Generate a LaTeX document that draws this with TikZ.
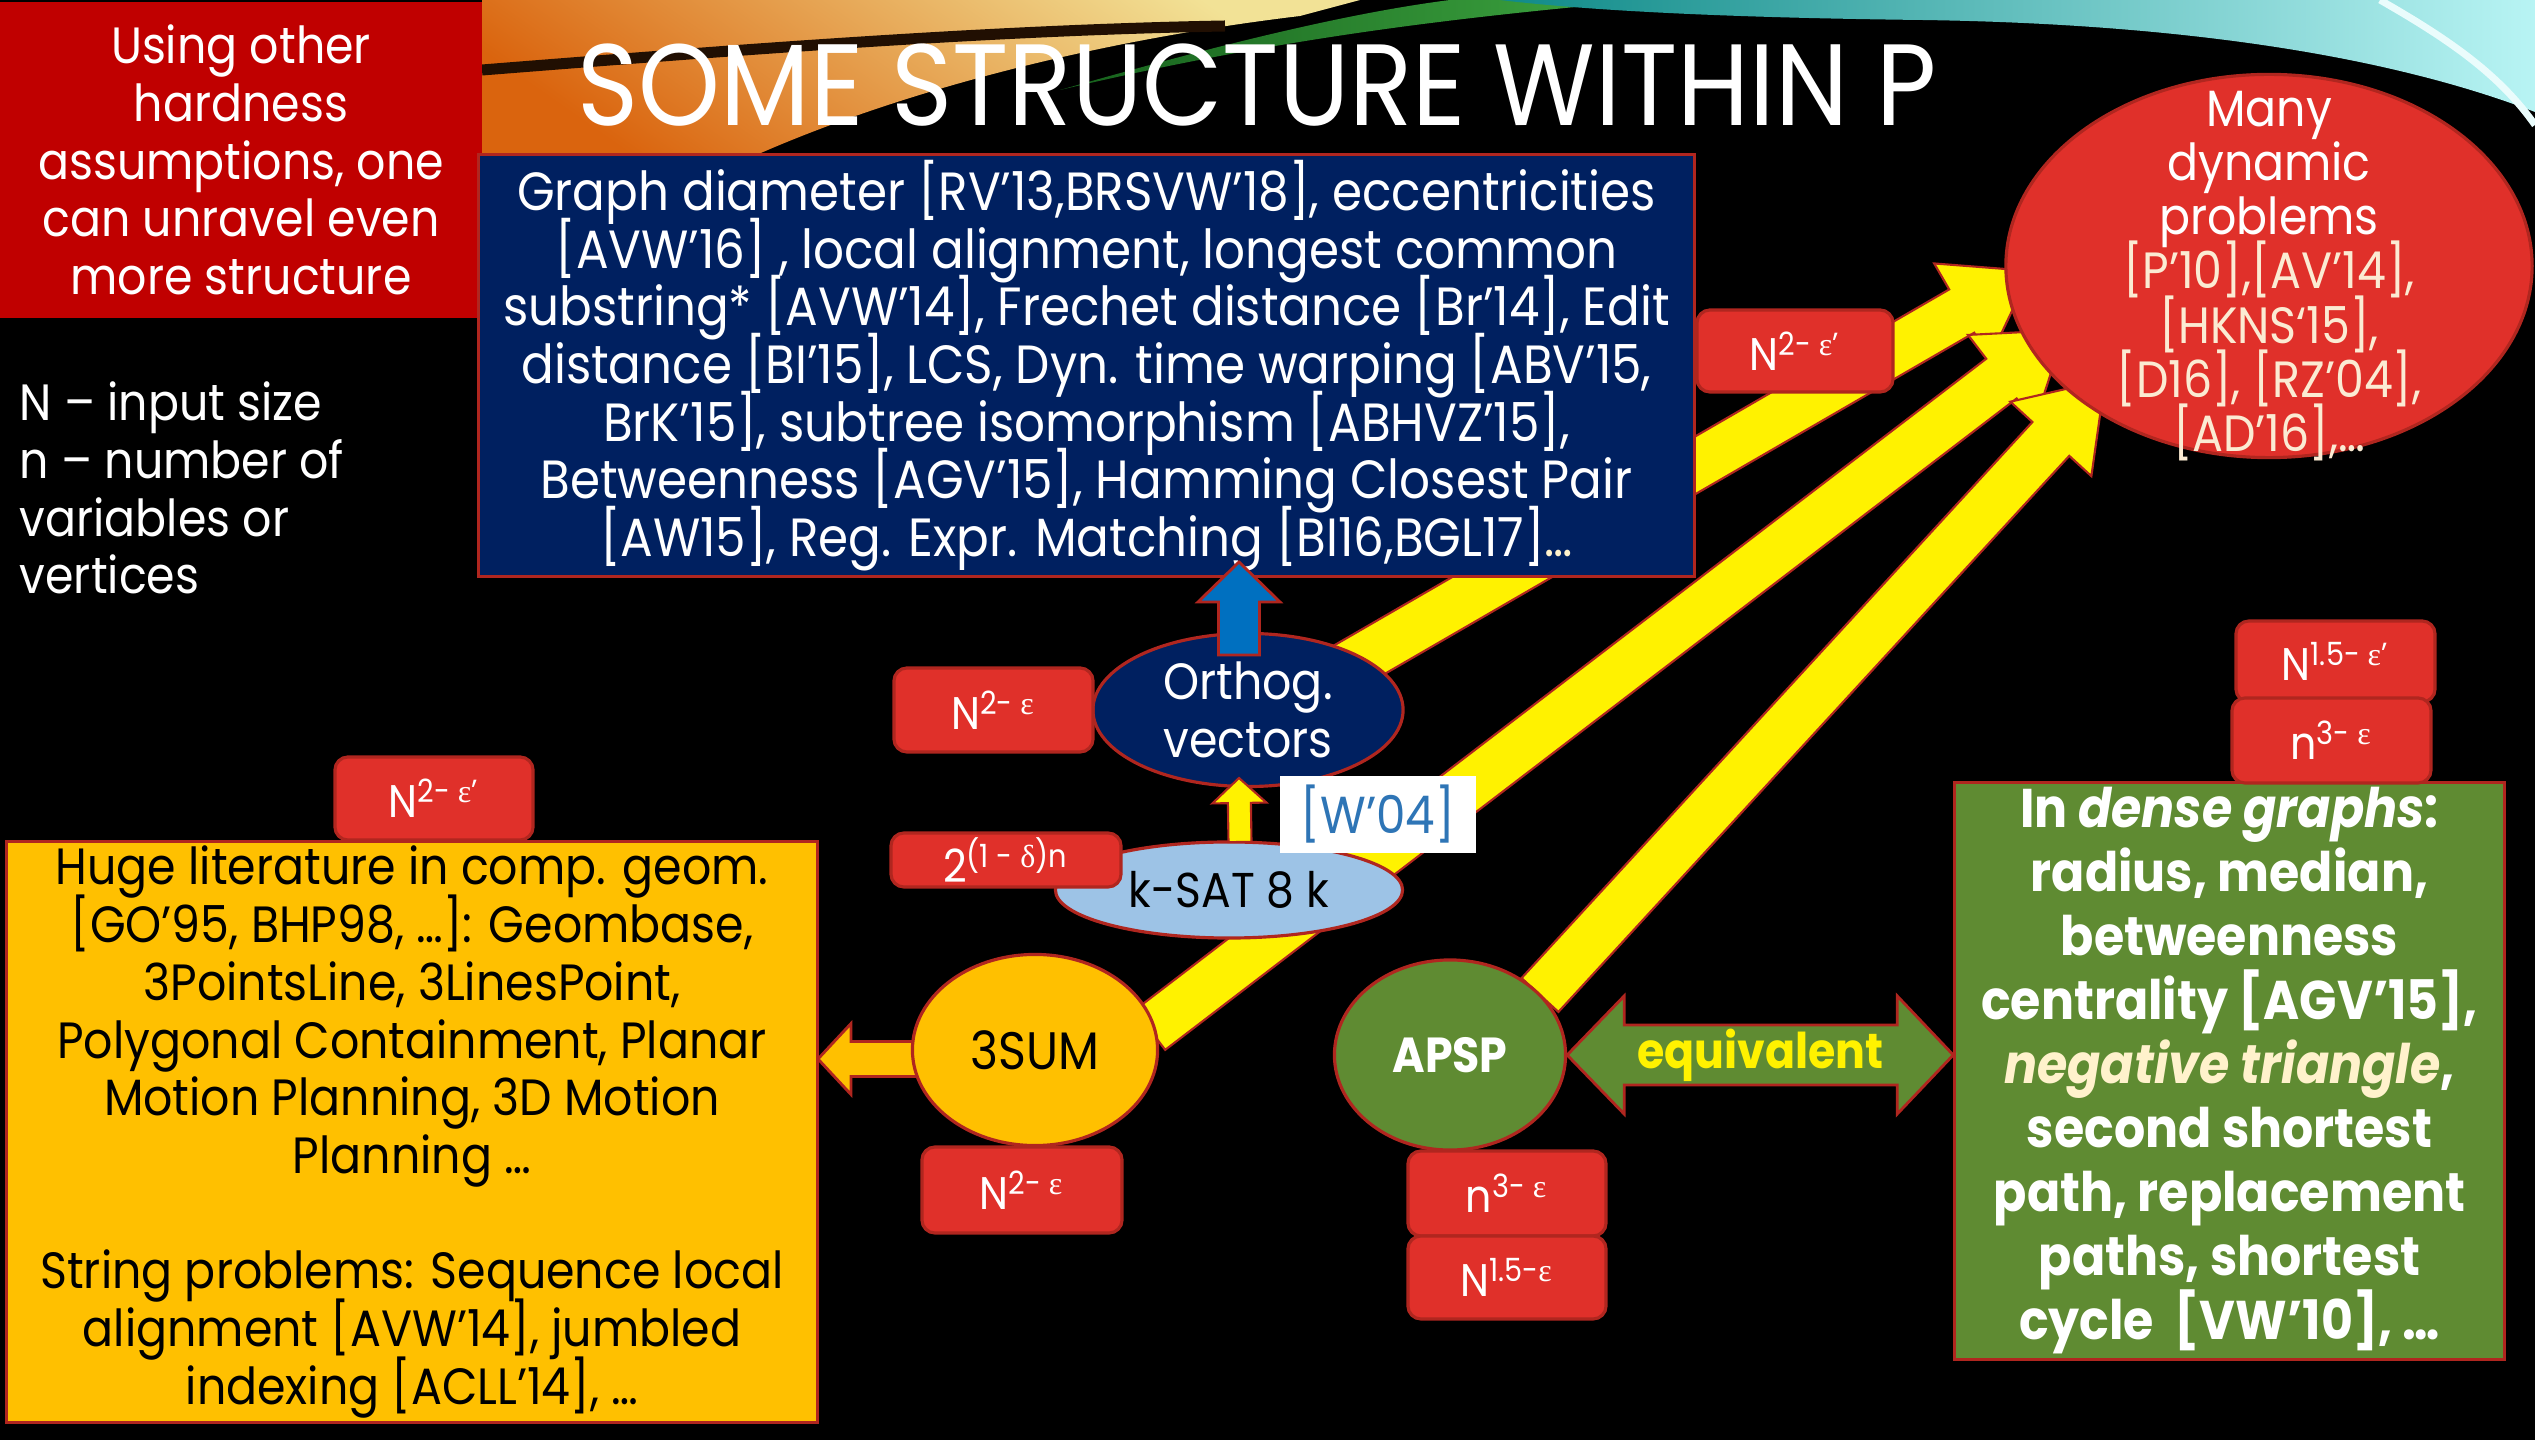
\documentclass[tikz,border=0pt]{standalone}
\usepackage{fontspec}
\setmainfont{Poppins}[FakeStretch=0.9]
\newfontfamily\grk{Liberation Serif}
\usetikzlibrary{calc,shapes.geometric}
\definecolor{navy}{HTML}{002060}
\definecolor{bord}{HTML}{B0261F}
\definecolor{lblred}{HTML}{E0302A}
\definecolor{tlred}{HTML}{C00000}
\definecolor{gold}{HTML}{FFC000}
\definecolor{olive}{HTML}{5F8B32}
\definecolor{skyb}{HTML}{9DC3E6}
\definecolor{arrblue}{HTML}{0070C0}
\definecolor{wref}{HTML}{2E75B6}
\definecolor{cream}{HTML}{FFF2CC}
\definecolor{cream2}{HTML}{FBEBD3}
\definecolor{warmtop}{HTML}{F2E296}
\definecolor{warmbot}{HTML}{DA640E}
\definecolor{teal1}{HTML}{0F8A88}
\definecolor{teal2}{HTML}{B8F4F4}
\definecolor{grn1}{HTML}{16601C}
\definecolor{grn2}{HTML}{3FA842}
\newcommand\fatarrow[6]{%
  \coordinate (fah) at ($(#2)!#5!(#1)$);
  \filldraw[#6] ($(#1)!#3!90:(#2)$) -- ($(fah)!#3!-90:(#1)$) -- ($(fah)!#4!-90:(#1)$) -- (#2) -- ($(fah)!#4!90:(#1)$) -- ($(fah)!#3!90:(#1)$) -- ($(#1)!#3!-90:(#2)$) -- cycle;}
\newcommand\eps{{\grk ε}}
\newcommand\dlt{{\grk δ}}
\newcommand\fs[2]{\fontsize{#1}{#2}\selectfont\lineskiplimit=-60pt\lineskip=0pt\relax}
\begin{document}
\begin{tikzpicture}[x=0.01cm,y=-0.01cm,
  box/.style={draw=bord, line width=0.9pt, inner sep=0pt, align=center},
  ell/.style={ellipse, draw=bord, line width=0.9pt, inner sep=0pt, align=center},
  lbl/.style={draw=bord, fill=lblred, rounded corners=0.13cm, line width=0.9pt, text=white, inner sep=0pt, font=\fs{13}{14}},
  body/.style={font=\fs{14.5}{16.4}},
  yarrow/.style={fill=yellow, draw=bord, line width=0.6pt},
  barrow/.style={fill=arrblue, draw=bord, line width=0.8pt},
  oarrow/.style={fill=gold, draw=bord, line width=0.8pt},
  garrow/.style={fill=olive, draw=bord, line width=0.8pt}]
\fill[black] (0,0) rectangle (2535,1440);
\useasboundingbox (0,0) rectangle (2535,1440);
% header swoosh
\begin{scope}
\clip (482,0) rectangle (2535,320);
\shade[top color=warmtop, bottom color=warmbot, shading angle=-35] (482,0) -- (1360,0) -- (1300,16) .. controls (1100,40) and (900,90) .. (745,160) -- (482,160) -- cycle;
\draw[line width=0.11cm, black!85!warmbot] (482,70) .. controls (760,48) and (1000,30) .. (1225,26);
\shade[left color=grn1, right color=grn2] (1060,90) .. controls (1200,50) and (1340,14) .. (1450,0) -- (1650,0) .. controls (1450,18) and (1280,38) .. (1060,90) -- cycle;
\shade[left color=teal1, right color=teal2] (1500,0) -- (2535,0) -- (2535,112) .. controls (2400,60) and (2200,24) .. (1922,20) .. controls (1750,18) and (1600,12) .. (1500,0) -- cycle;
\draw[line width=0.07cm, white!70!teal2] (2380,0) .. controls (2450,40) and (2500,75) .. (2535,125);
\end{scope}
\node[font=\fs{32.9}{38}, text=white, anchor=base] (title) at (1257,126) {SOME STRUCTURE WITHIN P};
% coordinates for arrows
\coordinate (a1s) at (1345,668); \coordinate (a1t) at (2031,271);
\coordinate (a2s) at (1150,1030); \coordinate (a2t) at (2065,330);
\coordinate (a3s) at (1540,995); \coordinate (a3t) at (2105,380);
\fatarrow{a1s}{a1t}{0.25cm}{0.55cm}{0.8cm}{yarrow}
\fatarrow{a2s}{a2t}{0.25cm}{0.55cm}{0.8cm}{yarrow}
\fatarrow{a3s}{a3t}{0.25cm}{0.55cm}{0.8cm}{yarrow}
\coordinate (oas) at (1000,1059); \coordinate (oat) at (818,1059);
\fatarrow{oas}{oat}{0.175cm}{0.355cm}{0.33cm}{oarrow}
% top-left red box
\node[fill=tlred, inner sep=0pt, minimum width=4.82cm, minimum height=3.15cm, text=white, align=center, body] (tl) at (241,160)
  {Using other\\hardness\\assumptions, one\\can unravel even\\more structure};
\node[text=white, align=left, anchor=west, inner sep=0pt, body] (notes) at (19,488)
  {N – input size\\n – number of\\variables or\\vertices};
% blue box
\node[box, fill=navy, text=white, minimum width=12.15cm, minimum height=4.21cm, font=\fs{15.3}{16.4}] (blue) at (1086.5,365.5)
  {Graph diameter [RV’13,BRSVW’18], eccentricities\\{}%
   [AVW’16] , local alignment, longest common\\{}%
   substring* [AVW’14], Frechet distance [Br’14], Edit\\{}%
   distance [BI’15], LCS, Dyn. time warping [ABV’15,\\{}%
   BrK’15], subtree isomorphism [ABHVZ’15],\\{}%
   Betweenness [AGV’15], Hamming Closest Pair\\{}%
   [AW15], Reg. Expr. Matching [BI16,BGL17]{\color{cream}…}};
% many dynamic problems
\node[ell, fill=lblred, minimum width=5.26cm, minimum height=3.83cm] (many) at (2269,266) {};
\node[text=white, align=center, inner sep=0pt, font=\fs{14.5}{15.4}] (manytxt) at (2269,276)
  {Many\\dynamic\\problems\\{\color{cream2}[P’10],[AV’14],}\\{\color{cream2}[HKNS‘15],}\\{\color{cream2}[D16], [RZ’04],}\\{\color{cream2}[AD’16],…}};
\node[lbl, minimum width=1.96cm, minimum height=0.82cm] (l1) at (1795,351) {N\textsuperscript{2- \eps'}};
% orthogonal vectors
\node[ell, fill=navy, text=white, minimum width=3.10cm, minimum height=1.53cm, font=\fs{14.5}{16.5}] (ov) at (1248,710) {Orthog.\\vectors};
\coordinate (bas) at (1239,655); \coordinate (bat) at (1239,562);
\fatarrow{bas}{bat}{0.205cm}{0.41cm}{0.40cm}{barrow}
\node[lbl, minimum width=1.99cm, minimum height=0.84cm] (l2) at (993.5,710) {N\textsuperscript{2- \eps}};
% k-SAT
\node[ell, fill=skyb, text=black, minimum width=3.47cm, minimum height=0.96cm, font=\fs{13.9}{16}] (ksat) at (1229,890) {k-SAT 8 k};
\coordinate (yas) at (1240,842); \coordinate (yat) at (1239,778);
\fatarrow{yas}{yat}{0.115cm}{0.27cm}{0.25cm}{yarrow}
\node[fill=white, inner sep=0pt, minimum width=1.96cm, minimum height=0.77cm, text=wref, font=\fs{14.8}{16}] (w04) at (1378,814.5) {[W’04]};
\node[lbl, minimum width=2.30cm, minimum height=0.54cm] (l3) at (1006,860) {2\textsuperscript{(1 - \dlt)n}};
% orange box
\node[lbl, minimum width=1.98cm, minimum height=0.83cm] (l4) at (434,798.5) {N\textsuperscript{2- \eps'}};
\node[box, fill=gold, text=black, minimum width=8.10cm, minimum height=5.80cm, body] (obox) at (412,1132)
  {Huge literature in comp. geom.\\{}%
   [GO’95, BHP98, …]: Geombase,\\
   3PointsLine, 3LinesPoint,\\
   Polygonal Containment, Planar\\
   Motion Planning, 3D Motion\\
   Planning …\\[16.4pt]
   String problems: Sequence local\\
   alignment [AVW’14], jumbled\\
   indexing [ACLL’14], …};
% 3SUM
\node[ell, fill=gold, text=black, minimum width=2.45cm, minimum height=1.91cm, font=\fs{15}{17}] (sum) at (1035,1050) {3SUM};
\node[lbl, minimum width=2.00cm, minimum height=0.86cm] (l5) at (1022,1190) {N\textsuperscript{2- \eps}};
% APSP
\node[ell, fill=olive, text=white, minimum width=2.31cm, minimum height=1.90cm, font=\bfseries\fs{14}{16}] (apsp) at (1450,1055) {APSP};
\node[lbl, minimum width=1.98cm, minimum height=0.85cm] (l6) at (1507,1193.5) {n\textsuperscript{3- \eps}};
\node[lbl, minimum width=1.98cm, minimum height=0.83cm] (l7) at (1507,1277.5) {N\textsuperscript{1.5-\eps}};
% green box
\node[box, fill=olive, text=white, minimum width=5.49cm, minimum height=5.76cm, font=\bfseries\fs{15.5}{18.2}] (green) at (2229.5,1071)
  {In \textit{dense graphs}:\\
   radius, median,\\
   betweenness\\
   centrality [AGV’15],\\
   {\color{cream}\itshape negative triangle},\\
   second shortest\\
   path, replacement\\
   paths, shortest\\
   cycle~~[VW’10], …};
\node[lbl, minimum width=1.99cm, minimum height=0.81cm] (l8) at (2335.5,661.5) {N\textsuperscript{1.5- \eps'}};
\node[lbl, minimum width=1.99cm, minimum height=0.85cm] (l9) at (2331.5,740.5) {n\textsuperscript{3- \eps}};
% equivalent double arrow
\coordinate (eqL) at (apsp.east);
\coordinate (eqR) at (green.west |- apsp.east);
\filldraw[garrow] (eqL) -- ($(eqL)+(57,-59)$) -- ($(eqL)+(57,-30)$) -- ($(eqR)+(-56,-30)$) -- ($(eqR)+(-56,-59)$) -- (eqR) -- ($(eqR)+(-56,59)$) -- ($(eqR)+(-56,30)$) -- ($(eqL)+(57,30)$) -- ($(eqL)+(57,59)$) -- cycle;
\node[text=yellow, font=\bfseries\fs{14}{16}] (eqtext) at ($(eqL)!0.5!(eqR)$) {equivalent};
\end{tikzpicture}
\end{document}
